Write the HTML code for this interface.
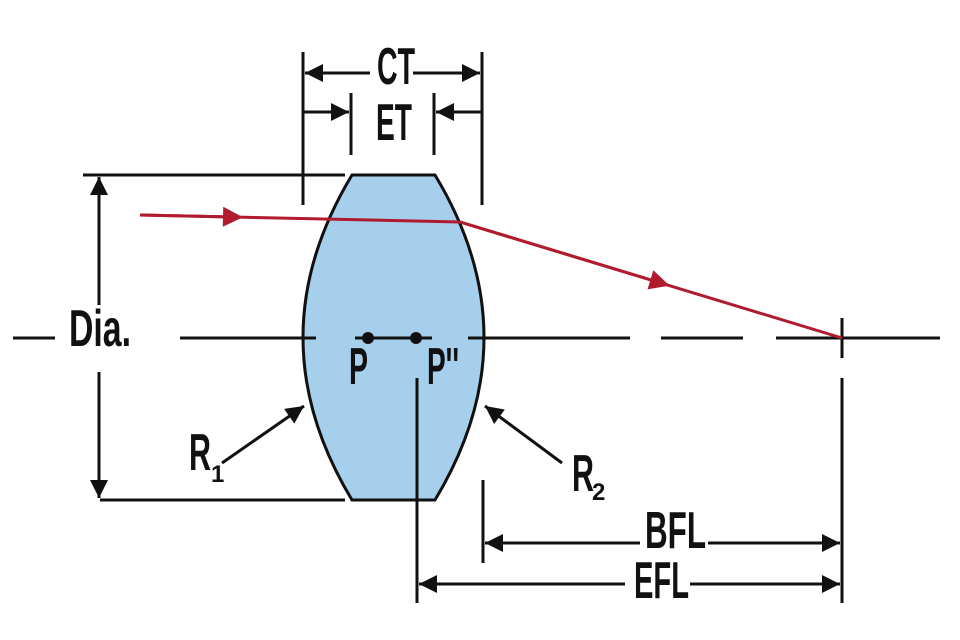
<!DOCTYPE html>
<html><head><style>html,body{margin:0;padding:0;background:#fff}svg{display:block}
text{font-family:"Liberation Sans Narrow","Liberation Sans",sans-serif;font-weight:bold;fill:#111}</style></head>
<body>
<svg width="960" height="640" viewBox="0 0 960 640">
<defs>
<marker id="a" viewBox="0 0 10 10" refX="10" refY="5" markerWidth="30" markerHeight="18" markerUnits="userSpaceOnUse" orient="auto"><path d="M0,0 L10,5 L0,10 z" fill="#111"/></marker>
<marker id="r" viewBox="0 0 10 10" refX="5" refY="5" markerWidth="26" markerHeight="20" markerUnits="userSpaceOnUse" orient="auto"><path d="M0,0 L10,5 L0,10 z" fill="#b01c2e"/></marker>
</defs>
<path d="M352,175 L435,175 Q533,337.5 435,500 L352,500 Q254,337.5 352,175 Z" fill="#a6cfec" stroke="#111" stroke-width="3"/>
<g stroke="#111" stroke-width="3" fill="none">
<line x1="13" y1="338" x2="55" y2="338"/>
<line x1="180" y1="338" x2="316" y2="338"/>
<line x1="355" y1="338" x2="432" y2="338"/>
<line x1="468" y1="338" x2="630" y2="338"/>
<line x1="661" y1="338" x2="743" y2="338"/>
<line x1="776" y1="338" x2="940" y2="338"/>
<line x1="842" y1="318" x2="842" y2="358"/>
<line x1="83" y1="175" x2="345" y2="175"/>
<line x1="100" y1="500" x2="345" y2="500"/>
<line x1="99" y1="305" x2="99" y2="177" marker-end="url(#a)"/>
<line x1="99" y1="372" x2="99" y2="498" marker-end="url(#a)"/>
<line x1="303" y1="52" x2="303" y2="205"/>
<line x1="482" y1="52" x2="482" y2="205"/>
<line x1="351" y1="93" x2="351" y2="155"/>
<line x1="434" y1="93" x2="434" y2="155"/>
<line x1="370" y1="73" x2="305" y2="73" marker-end="url(#a)"/>
<line x1="413" y1="73" x2="480" y2="73" marker-end="url(#a)"/>
<line x1="303" y1="112" x2="349" y2="112" marker-end="url(#a)"/>
<line x1="482" y1="112" x2="436" y2="112" marker-end="url(#a)"/>
<line x1="417" y1="378" x2="417" y2="603"/>
<line x1="483" y1="480" x2="483" y2="563"/>
<line x1="842" y1="378" x2="842" y2="603"/>
<line x1="640" y1="543" x2="485" y2="543" marker-end="url(#a)"/>
<line x1="708" y1="543" x2="840" y2="543" marker-end="url(#a)"/>
<line x1="625" y1="584" x2="419" y2="584" marker-end="url(#a)"/>
<line x1="690" y1="584" x2="840" y2="584" marker-end="url(#a)"/>
<line x1="222" y1="463" x2="304" y2="406" marker-end="url(#a)"/>
<line x1="562" y1="463" x2="485" y2="406" marker-end="url(#a)"/>
</g>
<circle cx="368" cy="338" r="6" fill="#111"/>
<circle cx="416" cy="338" r="6" fill="#111"/>
<g stroke="#b01c2e" stroke-width="3" fill="none">
<polyline points="140,215 460,222 842,338"/>
<line x1="140" y1="215" x2="233" y2="217" marker-end="url(#r)"/>
<line x1="460" y1="222" x2="660" y2="282.7" marker-end="url(#r)"/>
</g>
<g font-size="52">
<text x="377" y="84" textLength="38" lengthAdjust="spacingAndGlyphs">CT</text>
<text x="376" y="140" textLength="36" lengthAdjust="spacingAndGlyphs">ET</text>
<text x="69" y="346" textLength="62" lengthAdjust="spacingAndGlyphs">Dia.</text>
<text x="349" y="384" textLength="19" lengthAdjust="spacingAndGlyphs">P</text>
<text x="427" y="384" textLength="32" lengthAdjust="spacingAndGlyphs">P''</text>
<text x="189" y="470" textLength="22" lengthAdjust="spacingAndGlyphs">R</text>
<text x="572" y="491" textLength="22" lengthAdjust="spacingAndGlyphs">R</text>
<text x="645" y="548" textLength="61" lengthAdjust="spacingAndGlyphs">BFL</text>
<text x="634" y="598" textLength="55" lengthAdjust="spacingAndGlyphs">EFL</text>
</g>
<g font-size="24">
<text x="211" y="482">1</text>
<text x="592" y="500">2</text>
</g>
</svg>
</body></html>
